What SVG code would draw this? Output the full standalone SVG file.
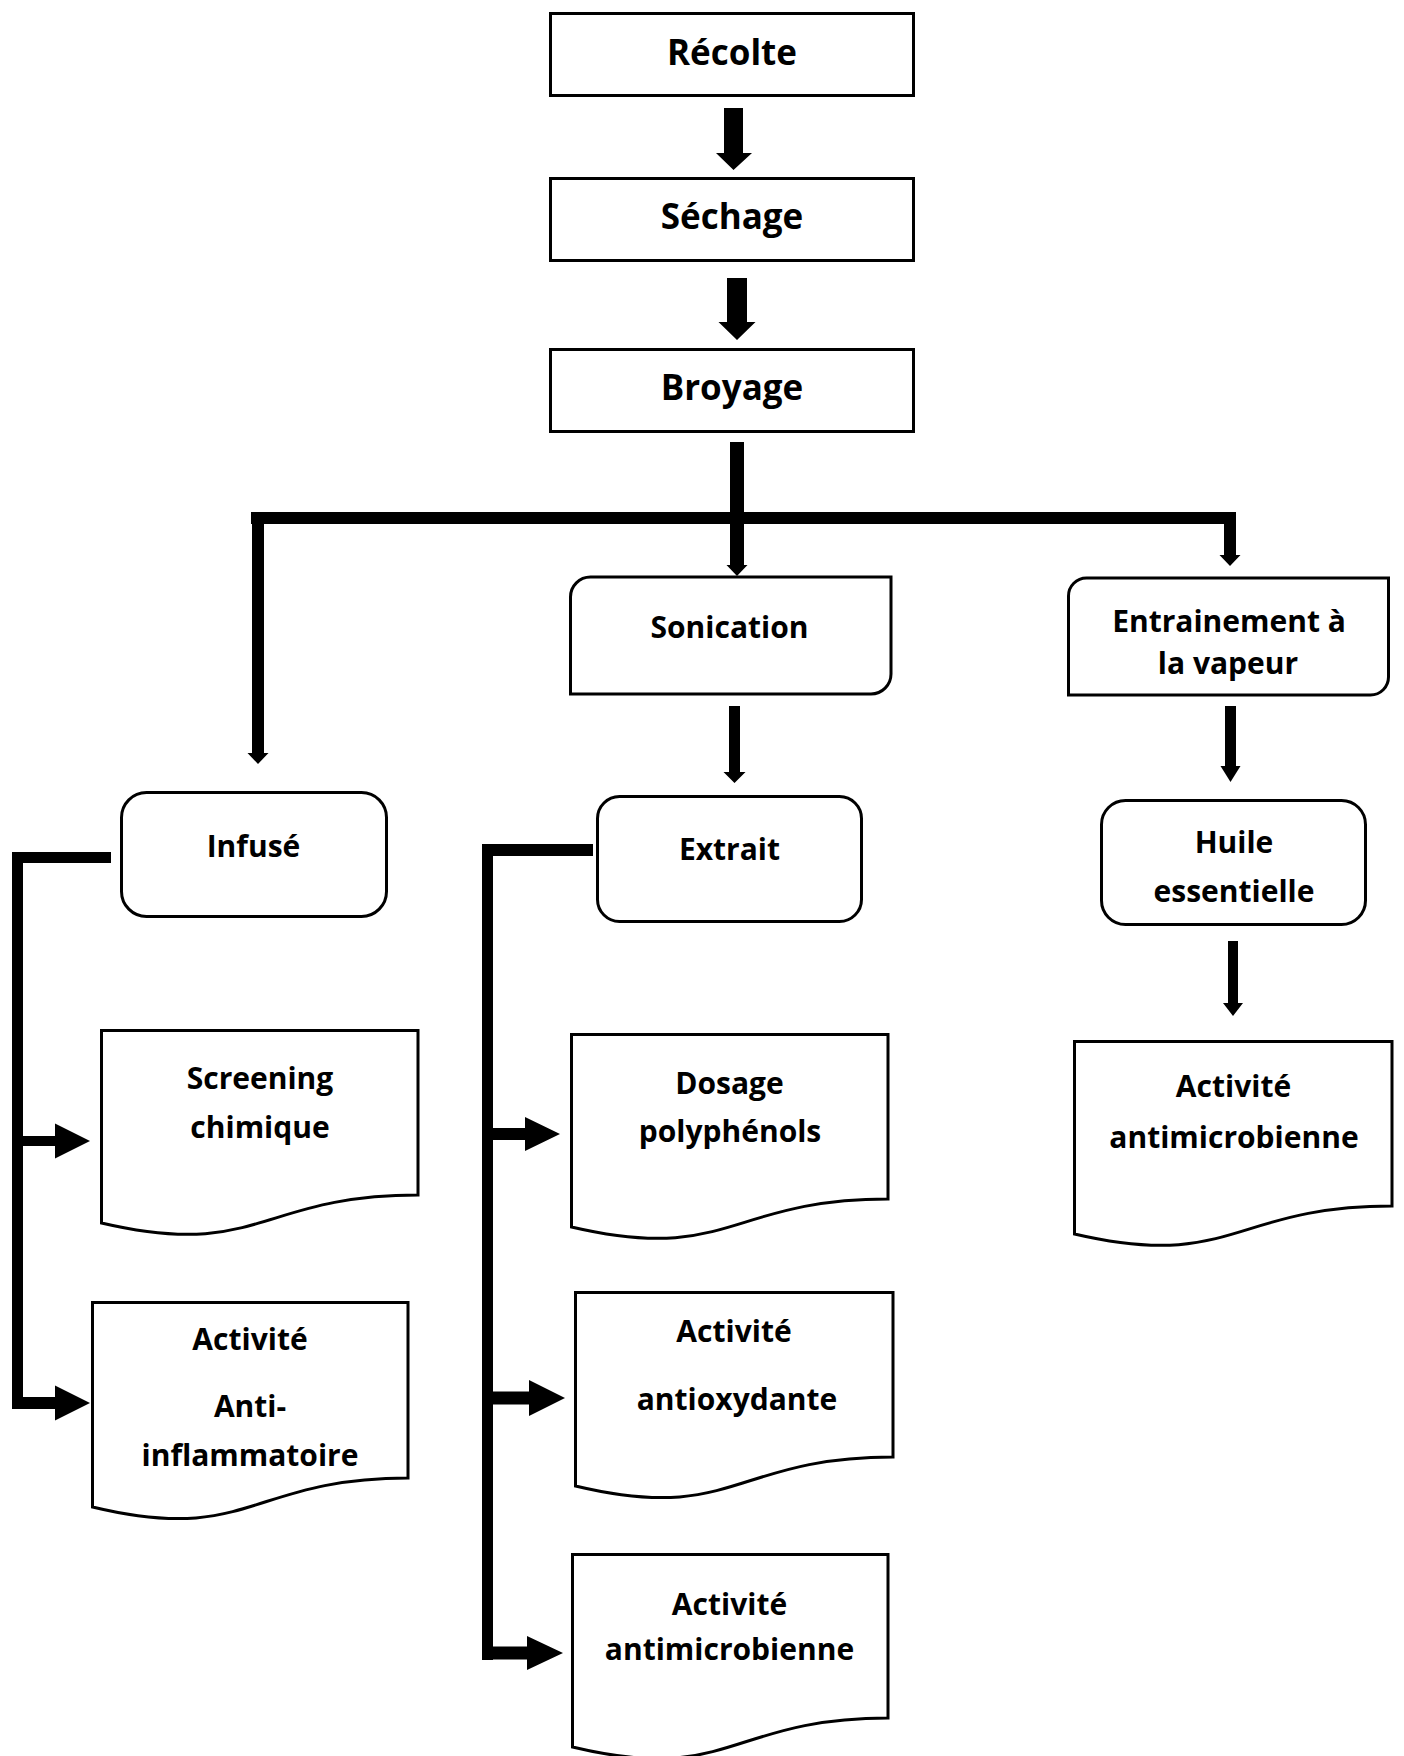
<svg xmlns="http://www.w3.org/2000/svg" width="1404" height="1756" viewBox="0 0 1404 1756">
<style>
.box{fill:#fff;stroke:#000;stroke-width:3}
.k{fill:#000;stroke:none}
text{font-family:"Open Sans","Liberation Sans",sans-serif;font-weight:bold;fill:#000;text-anchor:middle}
.big{font-size:35px}
.t{font-size:30px}
</style>
<rect width="1404" height="1756" fill="#fff"/>
<g id="connectors">
<polygon class="k" points="724,108 743,108 743,153 752,153 733.5,170 716,153 724,153"/>
<polygon class="k" points="727,278 747,278 747,322 755.5,322 737,340 718.5,322 727,322"/>
<polygon class="k" points="730,442 744,442 744,565 747.5,565 737,576 726.5,565 730,565"/>
<rect class="k" x="251" y="512" width="985" height="12"/>
<polygon class="k" points="252,512 264,512 264,753 268.5,753 258,764 247.5,753 252,753"/>
<polygon class="k" points="1224,512 1236,512 1236,555 1240.5,555 1230,566 1219.5,555 1224,555"/>
<polygon class="k" points="729,706 740,706 740,772 745.5,772 734.5,783 723.5,772 729,772"/>
<polygon class="k" points="1225,706 1236,706 1236,766 1240.5,766 1230.5,782 1220.5,766 1225,766"/>
<polygon class="k" points="1228,941 1238,941 1238,1003 1243,1003 1233,1016 1223,1003 1228,1003"/>
<rect class="k" x="12" y="852" width="99" height="11"/>
<rect class="k" x="12" y="852" width="11" height="557"/>
<polygon class="k" points="20,1136 55,1136 55,1123.5 90,1141 55,1158.5 55,1146 20,1146"/>
<polygon class="k" points="20,1397 55,1397 55,1385.5 90,1403 55,1420.5 55,1409 20,1409"/>
<rect class="k" x="482" y="844" width="111" height="12"/>
<rect class="k" x="482" y="844" width="11" height="816"/>
<polygon class="k" points="490,1128 525,1128 525,1117 560,1134 525,1151 525,1140 490,1140"/>
<polygon class="k" points="490,1391.5 529,1391.5 529,1380 565,1398 529,1416 529,1404.5 490,1404.5"/>
<polygon class="k" points="490,1646.5 527,1646.5 527,1636 563,1653 527,1670 527,1659.5 490,1659.5"/>
</g>
<g id="recolte">
<rect class="box" x="550.5" y="13.5" width="363" height="82"/>
<text class="big" x="732" y="65">Récolte</text>
</g>
<g id="sechage">
<rect class="box" x="550.5" y="178.5" width="363" height="82"/>
<text class="big" x="732" y="229">Séchage</text>
</g>
<g id="broyage">
<rect class="box" x="550.5" y="349.5" width="363" height="82"/>
<text class="big" x="732" y="400">Broyage</text>
</g>
<g id="sonication">
<path class="box" d="M570.5,694 L570.5,597 A20,20 0 0 1 590.5,577 L891,577 L891,674 A20,20 0 0 1 871,694 Z"/>
<text class="t" x="729.5" y="638">Sonication</text>
</g>
<g id="entrainement">
<path class="box" d="M1068.5,695 L1068.5,596 A18,18 0 0 1 1086.5,578 L1388.5,578 L1388.5,677 A18,18 0 0 1 1370.5,695 Z"/>
<text class="t" x="1229" y="632">Entrainement à</text>
<text class="t" x="1228" y="674">la vapeur</text>
</g>
<g id="infuse">
<rect class="box" x="121.5" y="792.5" width="265" height="124" rx="25"/>
<text class="t" x="253.5" y="857">Infusé</text>
</g>
<g id="extrait">
<rect class="box" x="597.5" y="796.5" width="264" height="125" rx="22"/>
<text class="t" x="729.5" y="860">Extrait</text>
</g>
<g id="huile">
<rect class="box" x="1101.5" y="800.5" width="264" height="124" rx="24"/>
<text class="t" x="1234" y="853">Huile</text>
<text class="t" x="1234" y="902">essentielle</text>
</g>
<g id="screening">
<path class="box" d="M101.5,1030.5 L418,1030.5 L418,1195 C259.5,1195 259.5,1260 101.5,1223 Z"/>
<text class="t" x="260" y="1089">Screening</text>
<text class="t" x="260" y="1137.5">chimique</text>
</g>
<g id="anti-inflammatoire">
<path class="box" d="M92.5,1302.5 L408,1302.5 L408,1478 C250,1478 250,1545 92.5,1507 Z"/>
<text class="t" x="250" y="1350">Activité</text>
<text class="t" x="250" y="1417">Anti-</text>
<text class="t" x="250" y="1466">inflammatoire</text>
</g>
<g id="dosage">
<path class="box" d="M571.5,1034.5 L888,1034.5 L888,1199 C729.5,1199 729.5,1264 571.5,1227 Z"/>
<text class="t" x="729.5" y="1094">Dosage</text>
<text class="t" x="730" y="1142">polyphénols</text>
</g>
<g id="antioxydante">
<path class="box" d="M575.5,1292.5 L893,1292.5 L893,1457 C734,1457 734,1524 575.5,1486 Z"/>
<text class="t" x="734" y="1342">Activité</text>
<text class="t" x="737" y="1410">antioxydante</text>
</g>
<g id="antimicrobienne-extrait">
<path class="box" d="M572.5,1554.5 L888,1554.5 L888,1718 C730,1718 730,1785 572.5,1747 Z"/>
<text class="t" x="729.5" y="1615">Activité</text>
<text class="t" x="729.5" y="1660">antimicrobienne</text>
</g>
<g id="antimicrobienne-huile">
<path class="box" d="M1074.5,1041.5 L1392,1041.5 L1392,1206 C1233,1206 1233,1271 1074.5,1234 Z"/>
<text class="t" x="1233.5" y="1097">Activité</text>
<text class="t" x="1234" y="1148">antimicrobienne</text>
</g>
</svg>
